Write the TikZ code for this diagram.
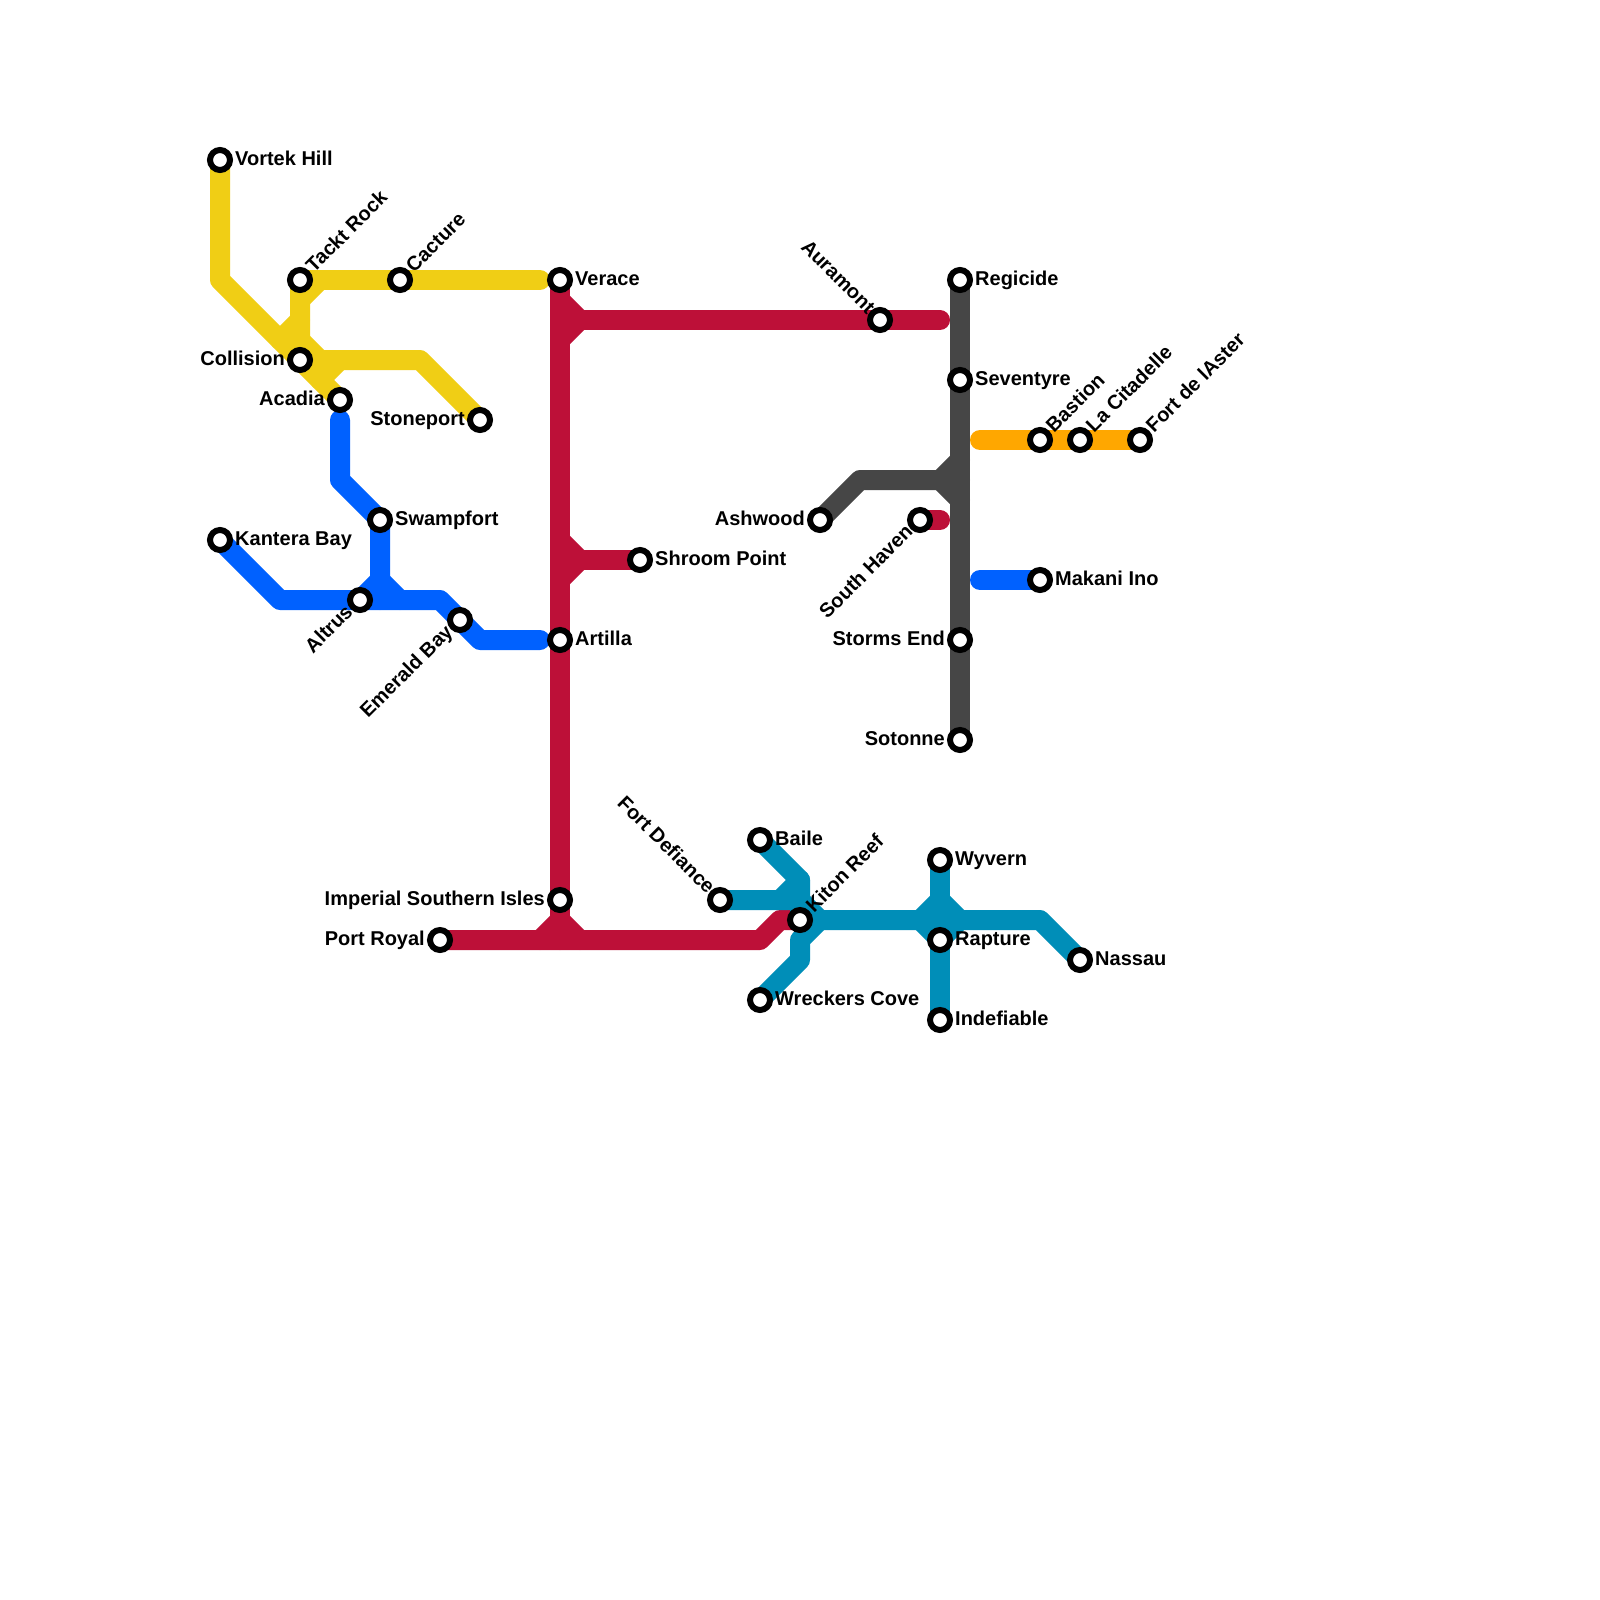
\documentclass[tikz,border=0pt]{standalone}
\usepackage{fontspec}
\setmainfont{Liberation Sans}
\usetikzlibrary{backgrounds}
\definecolor{yline}{RGB}{240, 206, 21}
\definecolor{bline}{RGB}{0, 97, 255}
\definecolor{cline}{RGB}{189, 16, 56}
\definecolor{tline}{RGB}{0, 142, 184}
\definecolor{gline}{RGB}{70, 70, 70}
\definecolor{oline}{RGB}{255, 167, 0}

\begin{document}
\begin{tikzpicture}[
   x=1pt, y=-1pt,
   stat/.style={circle, draw=black, fill=white, line width=6, inner sep=0, minimum size=20},
   lbl/.style={font=\fontsize{20}{20}\selectfont\bfseries, text=black, inner sep=0},
   lblright/.style={lbl, anchor=base west},
   lblleft/.style={lbl, anchor=base east},
   lblne/.style={lbl, anchor=base west, rotate=45},
   lblnw/.style={lbl, anchor=base east, rotate=-45},
   lblsw/.style={lbl, anchor=base east, rotate=45},
   metro/.style={line width=20, line cap=round, line join=round}
  ]

  \useasboundingbox (0, 0) rectangle (1600, 1600);

  % Stations
  \foreach \N/\X/\Y/\T in {vortek/220/160/Vortek Hill, kantera/220/540/Kantera Bay,
      swampfort/380/520/Swampfort, verace/560/280/Verace, artilla/560/640/Artilla,
      shroom/640/560/Shroom Point, regicide/960/280/Regicide, seventyre/960/380/Seventyre,
      makani/1040/580/Makani Ino, baile/760/840/Baile, wreckers/760/1000/Wreckers Cove,
      wyvern/940/860/Wyvern, rapture/940/940/Rapture, indefiable/940/1020/Indefiable,
      nassau/1080/960/Nassau} {
    \node (\N) at (\X, \Y) [stat] {};
    \node (l\N) at (\X + 15, \Y + 5) [lblright] {\T};
  }
  \foreach \N/\X/\Y/\T in {collision/300/360/Collision, acadia/340/400/Acadia,
      stoneport/480/420/Stoneport, imperial/560/900/Imperial Southern Isles,
      port/440/940/Port Royal, ashwood/820/520/Ashwood, storms/960/640/Storms End,
      sotonne/960/740/Sotonne} {
    \node (\N) at (\X, \Y) [stat] {};
    \node (l\N) at (\X - 15, \Y + 5) [lblleft] {\T};
  }
  \foreach \N/\X/\Y/\T in {tackt/300/280/Tackt Rock, cacture/400/280/Cacture,
      bastion/1040/440/Bastion, citadelle/1080/440/La Citadelle,
      fort/1140/440/Fort de lAster, kiton/800/920/Kiton Reef} {
    \node (\N) at (\X, \Y) [stat] {};
    \node (l\N) at (\X + 14, \Y - 6.5) [lblne] {\T};
  }
  \foreach \N/\X/\Y/\T in {auramont/880/320/Auramont, fortdef/720/900/Fort Defiance} {
    \node (\N) at (\X, \Y) [stat] {};
    \node (l\N) at (\X - 13, \Y - 5) [lblnw] {\T};
  }
  \foreach \N/\X/\Y/\T in {altrus/360/600/Altrus, emerald/460/620/Emerald Bay,
      south/920/520/South Haven} {
    \node (\N) at (\X, \Y) [stat] {};
    \node (l\N) at (\X - 6, \Y + 13) [lblsw] {\T};
  }

  % Bends and line ends
  \foreach \N/\X/\Y in {ya/220/280, yb/280/340, yc/300/320, yd/320/360, ye/300/340,
      yf/420/360, yg/340/360, yh/320/380, yi/300/300, yj/320/280, yk/540/280,
      ba/340/420, bb/340/480, bc/280/600, bd/440/600, be/480/640, bf/540/640,
      bg/380/600, bh/380/580, bi/400/600, bj/980/580,
      ca/560/940, cb/560/300, cc/580/320, cd/560/340, ce/560/320, cf/940/320,
      cg/560/540, ch/580/560, ci/560/580, cj/560/560, ck/760/940, cl/780/920,
      cm/540/940, cn/560/920, co/580/940, cp/940/520,
      oa/980/440, ga/860/480, gb/960/480, gc/940/480, gd/960/460, ge/960/500,
      ta/800/880, tb/800/900, tc/780/900, td/820/920, te/800/960, tf/800/940,
      tg/1040/920, th/920/920, ti/940/900, tj/960/920} {
    \coordinate (\N) at (\X, \Y);
  }

  \begin{scope}[on background layer]
    \fill[white] (0, 0) rectangle (1600, 1600);

    \draw[metro, yline] (vortek.center) -- (ya) -- (acadia.center);
    \draw[metro, yline] (tackt.center) -- (cacture.center) -- (yk);
    \draw[metro, yline] (tackt.center) -- (collision.center) -- (yf) -- (stoneport.center);
    \foreach \B/\E in {yi/yj, yb/yc, ye/yd, yh/yg} {
      \draw[metro, yline] (\B) -- (\E);
    }

    \draw[metro, bline] (ba) -- (bb) -- (swampfort.center) -- (bg);
    \draw[metro, bline] (kantera.center) -- (bc) -- (altrus.center) -- (bd)
      -- (emerald.center) -- (be) -- (bf);
    \draw[metro, bline] (altrus.center) -- (bh) -- (bi);
    \draw[metro, bline] (bj) -- (makani.center);

    \draw[metro, cline] (verace.center) -- (artilla.center) -- (imperial.center) -- (ca);
    \draw[metro, cline] (ce) -- (auramont.center) -- (cf);
    \draw[metro, cline] (cj) -- (shroom.center);
    \draw[metro, cline] (port.center) -- (ck) -- (cl) -- (kiton.center);
    \draw[metro, cline] (south.center) -- (cp);
    \foreach \B/\M/\E in {cb/cc/cd, cg/ch/ci, cm/cn/co} {
      \draw[metro, cline] (\B) -- (\M) -- (\E);
    }

    \draw[metro, oline] (oa) -- (bastion.center) -- (citadelle.center) -- (fort.center);

    \draw[metro, gline] (regicide.center) -- (seventyre.center) -- (storms.center)
      -- (sotonne.center);
    \draw[metro, gline] (ashwood.center) -- (ga) -- (gb);
    \draw[metro, gline] (gd) -- (gc) -- (ge);

    \draw[metro, tline] (baile.center) -- (ta) -- (kiton.center);
    \draw[metro, tline] (fortdef.center) -- (tb) -- (td);
    \draw[metro, tline] (tc) -- (ta);
    \draw[metro, tline] (wreckers.center) -- (te) -- (tf) -- (td);
    \draw[metro, tline] (kiton.center) -- (tg) -- (nassau.center);
    \draw[metro, tline] (wyvern.center) -- (rapture.center) -- (indefiable.center);
    \draw[metro, tline] (th) -- (ti) -- (tj) -- (rapture.center) -- cycle;
  \end{scope}

\end{tikzpicture}
\end{document}
